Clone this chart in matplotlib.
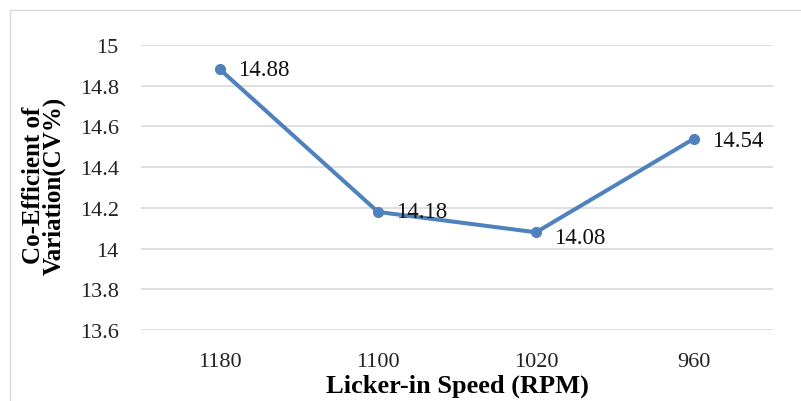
import matplotlib.pyplot as plt
from matplotlib.patches import Rectangle

speeds = ["1180", "1100", "1020", "960"]
cv_values = [14.88, 14.18, 14.08, 14.54]
y_ticks = [13.6, 13.8, 14.0, 14.2, 14.4, 14.6, 14.8, 15.0]
y_tick_labels = ["13.6", "13.8", "14", "14.2", "14.4", "14.6", "14.8", "15"]
label_offsets = [(13, 0), (13, 0), (13, -4), (13, -1)]

plt.rcParams["font.family"] = ["Liberation Serif", "DejaVu Serif"]

fig = plt.figure(figsize=(8.01, 4.02), dpi=100)
ax = fig.add_axes([141 / 801, 1 - 331 / 402, (773 - 141) / 801, (331 - 46) / 402])

# outer chart border (cropped on right/bottom in the reference)
fig.patches.append(Rectangle((10 / 801, -0.1), 1.2, 1 - 11 / 402 + 0.1,
                             transform=fig.transFigure, fill=False,
                             edgecolor="#D9D9D9", linewidth=1.0))

x = list(range(len(speeds)))
ax.plot(x, cv_values, color="#4F81BD", linewidth=2.9, marker="o",
        markersize=7, solid_capstyle="round", zorder=3)

for xi, v, (dx, dy) in zip(x, cv_values, label_offsets):
    ax.annotate(f"{v:.2f}", (xi, v), xytext=(dx, dy), textcoords="offset points",
                ha="left", va="center", fontsize=16.5, color="#111111")

ax.set_xlim(-0.5, len(speeds) - 0.5)
ax.set_ylim(13.6, 15.0)
ax.set_yticks(y_ticks)
ax.set_yticklabels(y_tick_labels)
ax.set_xticks(x)
ax.set_xticklabels(speeds)
ax.tick_params(axis="y", length=0, pad=16, labelsize=16, colors="#222222")
ax.tick_params(axis="x", length=0, pad=15.5, labelsize=16, colors="#222222")
ax.grid(axis="y", color="#D9D9D9", linewidth=1.2)
ax.set_axisbelow(True)
for s in ax.spines.values():
    s.set_visible(False)

ax.set_xlabel("Licker-in Speed (RPM)", fontsize=19, fontweight="bold", labelpad=2)
ax.set_ylabel("Co-Efficient of\nVariation(CV%)", fontsize=18, fontweight="bold",
              linespacing=0.85, va="center")
ax.yaxis.set_label_coords(-0.153, 0.51)

fig.savefig("out.png", dpi=100)
